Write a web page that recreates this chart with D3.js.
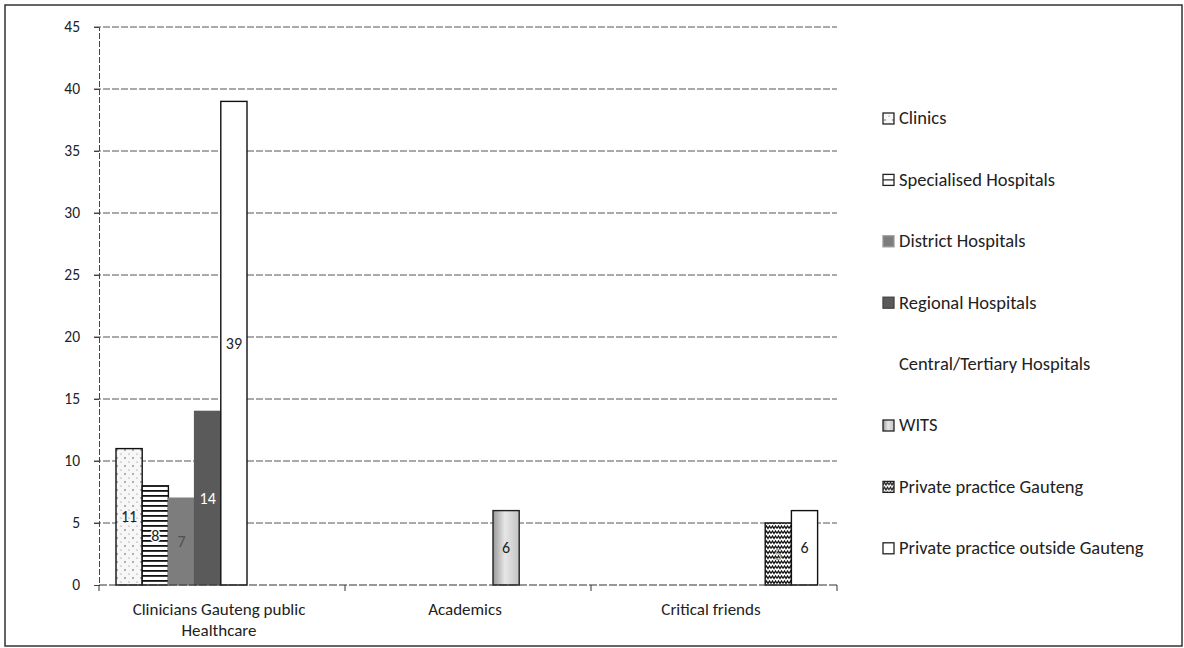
<!DOCTYPE html>
<html><head><meta charset="utf-8">
<script src="https://cdn.jsdelivr.net/npm/d3@7/dist/d3.min.js"></script>
<style>body{margin:0;background:#fff}svg{display:block}</style>
</head><body><svg id="c" width="1184" height="648"></svg>
<script>
const categories = ["Clinicians Gauteng public Healthcare", "Academics", "Critical friends"];
const categoryLines = [["Clinicians Gauteng public", "Healthcare"], ["Academics"], ["Critical friends"]];
const seriesNames = ["Clinics", "Specialised Hospitals", "District Hospitals", "Regional Hospitals",
  "Central/Tertiary Hospitals", "WITS", "Private practice Gauteng", "Private practice outside Gauteng"];
const clinicsVals = [11, null, null];
const specialisedVals = [8, null, null];
const districtVals = [7, null, null];
const regionalVals = [14, null, null];
const centralVals = [39, null, null];
const witsVals = [null, 6, null];
const privGautengVals = [null, null, 5];
const privOutsideVals = [null, null, 6];
const yTicks = [0, 5, 10, 15, 20, 25, 30, 35, 40, 45];

const seriesVals = [clinicsVals, specialisedVals, districtVals, regionalVals, centralVals, witsVals, privGautengVals, privOutsideVals];
const fills = ["url(#dots)", "url(#hlines)", "#7d7d7d", "#5a5a5a", "#ffffff", "url(#grad)", "url(#zig)", "#ffffff"];
const strokes = ["#111", "#111", "#7d7d7d", "#5a5a5a", "#111", "#222", "#111", "#111"];
const labelColors = ["#222", "#222", "#505050", "#fff", "#222", "#222", "#aaa", "#222"];
const legendSwatchStroke = ["#222", "#222", "#999", "#444", "none", "#222", "#222", "#222"];

const svg = d3.select("#c");
const font = "Carlito, 'Open Sans', 'Noto Sans', sans-serif";

const defs = svg.append("defs");
const pd = defs.append("pattern").attr("id", "dots").attr("patternUnits", "userSpaceOnUse").attr("width", 8).attr("height", 8);
pd.append("rect").attr("width", 8).attr("height", 8).attr("fill", "#f7f7f7");
pd.append("circle").attr("cx", 2).attr("cy", 2).attr("r", 0.8).attr("fill", "#555");
pd.append("circle").attr("cx", 6).attr("cy", 6).attr("r", 0.6).attr("fill", "#777");
const ph = defs.append("pattern").attr("id", "hlines").attr("patternUnits", "userSpaceOnUse").attr("width", 6).attr("height", 5);
ph.append("rect").attr("width", 6).attr("height", 5).attr("fill", "#fff");
ph.append("rect").attr("y", 0).attr("width", 6).attr("height", 1.8).attr("fill", "#111");
const pz = defs.append("pattern").attr("id", "zig").attr("patternUnits", "userSpaceOnUse").attr("width", 6).attr("height", 5);
pz.append("rect").attr("width", 6).attr("height", 5).attr("fill", "#fff");
pz.append("path").attr("d", "M0,3.5 L1.5,1 L3,3.5 L4.5,1 L6,3.5").attr("fill", "none").attr("stroke", "#111").attr("stroke-width", 1.3);
const gr = defs.append("linearGradient").attr("id", "grad").attr("x1", "0%").attr("x2", "100%").attr("y1", "0%").attr("y2", "0%");
gr.append("stop").attr("offset", "0%").attr("stop-color", "#999");
gr.append("stop").attr("offset", "45%").attr("stop-color", "#e6e6e6");
gr.append("stop").attr("offset", "100%").attr("stop-color", "#c4c4c4");

// frame
svg.append("rect").attr("x", 5).attr("y", 5).attr("width", 1177).attr("height", 641)
  .attr("fill", "none").attr("stroke", "#333").attr("stroke-width", 1.5);

const y = d3.scaleLinear().domain([0, 45]).range([585, 27]);
const x0 = d3.scaleBand().domain(categories).range([99, 837]).padding(0);
const x1 = d3.scaleBand().domain(seriesNames).range([17, 17 + 8 * 26.2]).padding(0);

// gridlines
svg.append("g").selectAll("line").data(yTicks.filter(t => t > 0)).join("line")
  .attr("x1", 94).attr("x2", 837).attr("y1", d => y(d)).attr("y2", d => y(d))
  .attr("stroke", "#555").attr("stroke-width", 1).attr("stroke-dasharray", "7,2");

// y axis
const ya = svg.append("g").attr("transform", "translate(99,0)")
  .call(d3.axisLeft(y).tickValues(yTicks).tickSize(5).tickPadding(14));
ya.select(".domain").attr("stroke", "#444").attr("stroke-dasharray", "6,2");
ya.selectAll(".tick line").attr("stroke", "#444");
ya.selectAll(".tick text").attr("font-family", font).attr("font-size", 15.5).attr("fill", "#222");

// bars
const groups = svg.append("g").selectAll("g").data(categories).join("g")
  .attr("transform", d => `translate(${x0(d)},0)`);
seriesNames.forEach((s, si) => {
  const data = categories.map((c, ci) => ({c, v: seriesVals[si][ci]})).filter(d => d.v != null);
  data.forEach(d => {
    const g = groups.filter(c => c === d.c);
    g.append("rect").attr("x", x1(s)).attr("width", x1.bandwidth())
      .attr("y", y(d.v)).attr("height", y(0) - y(d.v))
      .attr("fill", fills[si]).attr("stroke", strokes[si]).attr("stroke-width", 1.4);
    const t = g.append("text").attr("x", x1(s) + x1.bandwidth() / 2).attr("y", (y(d.v) + y(0)) / 2)
      .attr("dy", "0.35em").attr("text-anchor", "middle")
      .attr("font-family", font).attr("font-size", 16).attr("fill", labelColors[si]).text(d.v);
    if (si === 1) t.attr("stroke", "#fff").attr("stroke-width", 3).attr("paint-order", "stroke");
  });
});

// x axis
const xa = svg.append("g").attr("transform", "translate(0,585)");
xa.append("line").attr("x1", 99).attr("x2", 837).attr("stroke", "#333").attr("stroke-width", 1.2).attr("stroke-dasharray", "8,2");
const tickXs = categories.map(c => x0(c)).concat([x0.range()[1]]);
xa.selectAll(".tk").data(tickXs).join("line").attr("class", "tk")
  .attr("x1", d => d).attr("x2", d => d).attr("y1", 0).attr("y2", 6).attr("stroke", "#333");
categories.forEach((c, i) => {
  const t = xa.append("text").attr("x", x0(c) + x0.bandwidth() / 2 - 3).attr("y", 30)
    .attr("text-anchor", "middle").attr("font-family", font).attr("font-size", 17).attr("fill", "#222");
  categoryLines[i].forEach((ln, j) => t.append("tspan").attr("x", x0(c) + x0.bandwidth() / 2 - 3).attr("dy", j ? 21 : 0).text(ln));
});

// legend
const lg = svg.append("g").selectAll("g").data(seriesNames).join("g")
  .attr("transform", (d, i) => `translate(883,${118 + i * 61.4})`);
lg.append("rect").attr("x", 0).attr("y", -5).attr("width", 11).attr("height", 11)
  .attr("fill", (d, i) => i === 4 ? "none" : (i === 1 ? "#fff" : fills[i]))
  .attr("stroke", (d, i) => legendSwatchStroke[i]).attr("stroke-width", 1.3);
lg.filter((d, i) => i === 1).append("line").attr("x1", 0).attr("x2", 11).attr("y1", 0.5).attr("y2", 0.5).attr("stroke", "#222").attr("stroke-width", 1.2);
lg.append("text").attr("x", 16).attr("dy", "0.35em").attr("font-family", font).attr("font-size", 18.5)
  .attr("fill", "#222").text(d => d);
</script></body></html>
